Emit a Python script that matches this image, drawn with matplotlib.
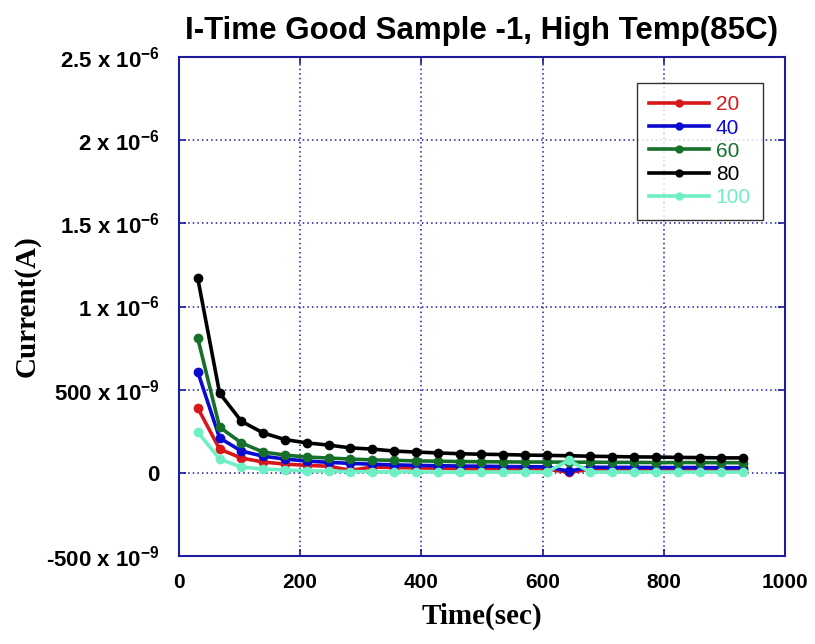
import numpy as np
import matplotlib
matplotlib.use("Agg")
import matplotlib.pyplot as plt

# time stamps of each reading (sec)
time_s = [31, 67, 103, 139, 175, 211, 247, 283, 319, 355, 391, 427, 463,
          499, 535, 571, 607, 643, 679, 715, 751, 787, 823, 859, 895, 931]

# currents in units of 1e-6 A
cur_20 = [0.39, 0.143, 0.089, 0.065, 0.053, 0.045, 0.040, 0.015, 0.035, 0.032,
          0.030, 0.028, 0.025, 0.025, 0.024, 0.024, 0.023, 0.003, 0.022, 0.022,
          0.022, 0.021, 0.021, 0.021, 0.020, 0.020]
cur_40 = [0.607, 0.21, 0.131, 0.100, 0.083, 0.071, 0.063, 0.057, 0.052, 0.048,
          0.045, 0.043, 0.041, 0.040, 0.038, 0.037, 0.036, 0.010, 0.034, 0.033,
          0.033, 0.032, 0.032, 0.032, 0.031, 0.031]
cur_60 = [0.81, 0.275, 0.18, 0.125, 0.107, 0.095, 0.089, 0.083, 0.078, 0.075,
          0.072, 0.070, 0.068, 0.067, 0.066, 0.065, 0.065, 0.064, 0.064, 0.063,
          0.063, 0.062, 0.062, 0.062, 0.061, 0.061]
cur_80 = [1.17, 0.48, 0.31, 0.24, 0.20, 0.18, 0.167, 0.150, 0.143, 0.131,
          0.125, 0.120, 0.115, 0.112, 0.110, 0.107, 0.105, 0.103, 0.100, 0.098,
          0.096, 0.095, 0.093, 0.092, 0.090, 0.090]
cur_100 = [0.245, 0.083, 0.035, 0.023, 0.017, 0.012, 0.010, 0.008, 0.007, 0.006,
           0.006, 0.005, 0.003, 0.004, 0.005, 0.005, 0.005, 0.075, 0.005, 0.005,
           0.005, 0.005, 0.005, 0.005, 0.005, 0.005]

series_names = ["20", "40", "60", "80", "100"]
series_vals = [cur_20, cur_40, cur_60, cur_80, cur_100]
colors = ["#d81818", "#0a0ad0", "#17702a", "#000000", "#6ff0c4"]

yticks = [-0.5, 0, 0.5, 1.0, 1.5, 2.0, 2.5]
ytick_labels = [r"-500 x 10$^{-9}$", "0", r"500 x 10$^{-9}$", r"1 x 10$^{-6}$",
                r"1.5 x 10$^{-6}$", r"2 x 10$^{-6}$", r"2.5 x 10$^{-6}$"]
xticks = [0, 200, 400, 600, 800, 1000]

plt.rcParams["font.family"] = "Liberation Sans"
plt.rcParams["mathtext.fontset"] = "custom"
plt.rcParams["mathtext.rm"] = "Liberation Sans:bold"
plt.rcParams["mathtext.default"] = "rm"

navy = "#1c1c9c"

fig = plt.figure(figsize=(8.15, 6.44), dpi=100)
ax = fig.add_axes([0.2196, 0.1366, 0.7436, 0.7749])

for name, vals, c in zip(series_names, series_vals, colors):
    ax.plot(time_s, vals, color=c, lw=2.6, marker="o", ms=6, label=name)

ax.set_xlim(0, 1000)
ax.set_ylim(-0.5, 2.5)
ax.set_xticks(xticks)
ax.set_xticklabels([str(t) for t in xticks], fontsize=15, fontweight="bold")
ax.set_yticks(yticks)
ax.set_yticklabels(ytick_labels, fontsize=16, fontweight="bold")

ax.grid(True, color=navy, linestyle=(0, (1, 2)), linewidth=1.1)
for sp in ax.spines.values():
    sp.set_color(navy)
    sp.set_linewidth(1.5)
ax.tick_params(direction="in", length=5, width=1.2, color=navy,
               top=True, right=True)
ax.tick_params(axis="x", pad=12)
ax.tick_params(axis="y", pad=14)

ax.set_xlabel("Time(sec)", family="Liberation Serif", fontsize=21,
              fontweight="bold", labelpad=8)
ax.set_ylabel("Current(A)", family="Liberation Serif", fontsize=21,
              fontweight="bold")
ax.yaxis.set_label_coords(-0.229, 0.5)
ax.set_title("I-Time Good Sample -1, High Temp(85C)", fontsize=22.5,
             fontweight="bold", pad=13)

leg = ax.legend(loc="upper left", bbox_to_anchor=(0.755, 0.948), fontsize=15,
                frameon=True, fancybox=False, handlelength=2.9,
                labelspacing=0.2, borderpad=0.6, handletextpad=0.3,
                borderaxespad=0)
leg.get_frame().set_edgecolor("black")
leg.get_frame().set_linewidth(1.0)
for txt, c in zip(leg.get_texts(), colors):
    txt.set_color(c)
for h in leg.get_lines():
    h.set_markersize(5)

fig.savefig("out.png", dpi=100)
